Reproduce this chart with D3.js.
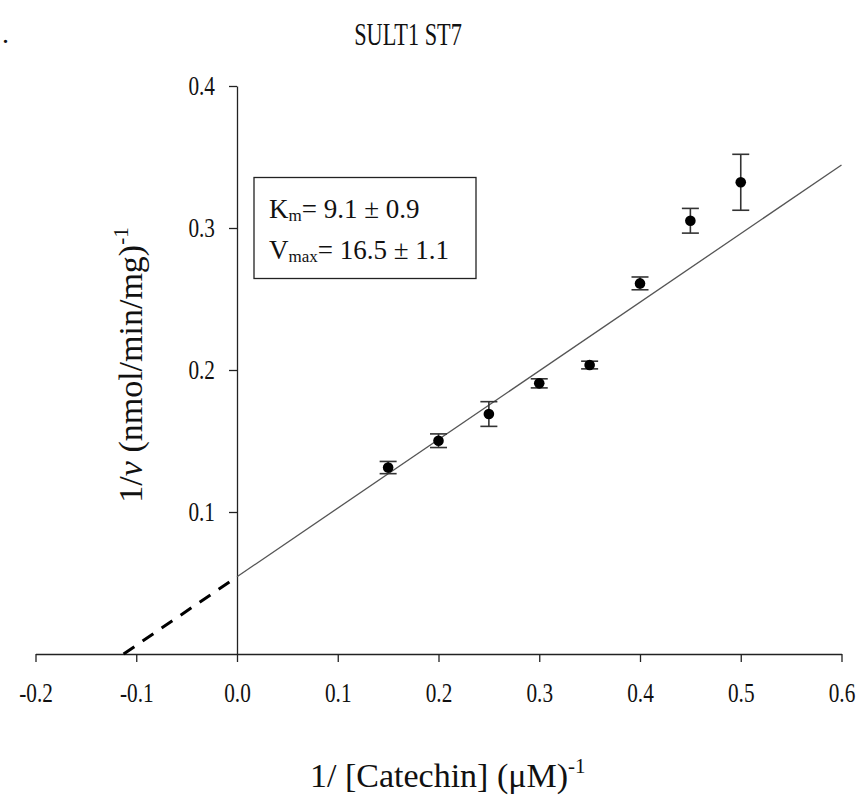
<!DOCTYPE html>
<html>
<head>
<meta charset="utf-8">
<script src="https://cdn.jsdelivr.net/npm/d3@7"></script>
<style>
  html, body { margin: 0; padding: 0; background: #fff; }
  svg text { font-family: "Liberation Serif", "Times New Roman", serif; fill: #111; }
</style>
</head>
<body>
<svg id="chart" width="865" height="802"></svg>
<script>
// Lineweaver–Burk plot: SULT1 ST7 with catechin as substrate
const invSubstrate = [0.15, 0.20, 0.25, 0.30, 0.35, 0.40, 0.45, 0.50];
const invVelocity  = [0.1313, 0.1502, 0.1690, 0.1906, 0.2035, 0.2610, 0.3051, 0.3322];
const velocityErr  = [0.0043, 0.0048, 0.0087, 0.0032, 0.0027, 0.0045, 0.0087, 0.0197];

// regression line of the double-reciprocal plot
const fitIntercept = 0.0544;
const fitSlope = 0.4833;

const xTickValues = [-0.2, -0.1, 0.0, 0.1, 0.2, 0.3, 0.4, 0.5, 0.6];
const yTickValues = [0.1, 0.2, 0.3, 0.4];

const titleText = "SULT1 ST7";
const kmText = ["K", "m", "= 9.1 \u00B1 0.9"];
const vmaxText = ["V", "max", "= 16.5 \u00B1 1.1"];

const svg = d3.select("#chart");

const x = d3.scaleLinear().domain([-0.2, 0.6]).range([35.5, 841.5]);
const y = d3.scaleLinear().domain([0, 0.4]).range([654, 86]);

// narrow serif labels: larger size, horizontally condensed
const condense = 0.76;
function condenseTickText(g) {
  g.selectAll(".tick text").each(function () {
    const t = d3.select(this);
    const tx = +t.attr("x") || 0;
    const ty = +t.attr("y") || 0;
    t.attr("x", 0).attr("y", 0)
     .attr("transform", `translate(${tx},${ty}) scale(${condense},1)`);
  });
}

// x axis along y = 0
const xAxis = svg.append("g")
  .attr("transform", `translate(0,${y(0)})`)
  .call(d3.axisBottom(x).tickValues(xTickValues).tickSize(8).tickSizeOuter(0)
    .tickPadding(20).tickFormat(d3.format(".1f")));

// y axis along x = 0
const yAxis = svg.append("g")
  .attr("transform", `translate(${x(0)},0)`)
  .call(d3.axisLeft(y).tickValues(yTickValues).tickSize(8).tickSizeOuter(0)
    .tickPadding(14).tickFormat(d3.format(".1f")));

[xAxis, yAxis].forEach(g => {
  g.selectAll("path.domain").attr("stroke", "#222").attr("stroke-width", 1.3);
  g.selectAll(".tick line").attr("stroke", "#222").attr("stroke-width", 1.3);
  g.selectAll(".tick text")
    .attr("font-family", "Liberation Serif, serif")
    .attr("font-size", 28)
    .attr("fill", "#111");
  condenseTickText(g);
});
xAxis.selectAll(".tick text").text(d => d3.format(".1f")(d).replace("\u2212", "-"));

// fitted line: dashed extrapolation to the x intercept, solid over the data range
const xIntercept = -fitIntercept / fitSlope;
const fit = v => fitIntercept + fitSlope * v;
const line = d3.line().x(d => x(d)).y(d => y(fit(d)));

svg.append("path")
  .attr("d", line([xIntercept, 0]))
  .attr("fill", "none")
  .attr("stroke", "#000")
  .attr("stroke-width", 3)
  .attr("stroke-dasharray", "13,10");

svg.append("path")
  .attr("d", line([0, 0.6]))
  .attr("fill", "none")
  .attr("stroke", "#555")
  .attr("stroke-width", 1.3);

// error bars
const pts = invSubstrate.map((s, i) => ({ s, v: invVelocity[i], e: velocityErr[i] }));
const capHalf = 8.5;
const eb = svg.append("g").attr("stroke", "#333").attr("stroke-width", 1.6);
pts.forEach(p => {
  const cx = x(p.s);
  eb.append("line").attr("x1", cx).attr("x2", cx).attr("y1", y(p.v - p.e)).attr("y2", y(p.v + p.e));
  eb.append("line").attr("x1", cx - capHalf).attr("x2", cx + capHalf).attr("y1", y(p.v + p.e)).attr("y2", y(p.v + p.e));
  eb.append("line").attr("x1", cx - capHalf).attr("x2", cx + capHalf).attr("y1", y(p.v - p.e)).attr("y2", y(p.v - p.e));
});

// data points
svg.append("g").selectAll("circle").data(pts).join("circle")
  .attr("cx", d => x(d.s))
  .attr("cy", d => y(d.v))
  .attr("r", 5.3)
  .attr("fill", "#000");

// kinetic constants box
svg.append("rect")
  .attr("x", 254).attr("y", 177.5).attr("width", 222).attr("height", 101)
  .attr("fill", "#fff").attr("stroke", "#222").attr("stroke-width", 1.3);

function subLabel(parts, ty) {
  const t = svg.append("text").attr("x", 269).attr("y", ty).attr("font-size", 27);
  t.append("tspan").text(parts[0]);
  t.append("tspan").attr("font-size", 17).attr("dy", 3).text(parts[1]);
  t.append("tspan").attr("dy", -3).text(parts[2]);
}
subLabel(kmText, 218);
subLabel(vmaxText, 259);

// title
svg.append("text")
  .attr("transform", "translate(408,45) scale(0.72,1)")
  .attr("text-anchor", "middle")
  .attr("font-size", 31)
  .text(titleText);

// stray period at top left
svg.append("text").attr("x", 2).attr("y", 43).attr("font-size", 28).text(".");

// x axis title
const xt = svg.append("text")
  .attr("x", 310).attr("y", 787)
  .attr("font-size", 34);
xt.append("tspan").text("1/ [Catechin] (\u03BCM)");
xt.append("tspan").attr("font-size", 21).attr("dy", -14).text("-1");

// y axis title
const yt = svg.append("text")
  .attr("transform", "translate(142,365) rotate(-90)")
  .attr("text-anchor", "middle")
  .attr("font-size", 34);
yt.append("tspan").text("1/");
yt.append("tspan").attr("font-style", "italic").text("v");
yt.append("tspan").text(" (nmol/min/mg)");
yt.append("tspan").attr("font-size", 21).attr("dy", -14).text("-1");
</script>
</body>
</html>
